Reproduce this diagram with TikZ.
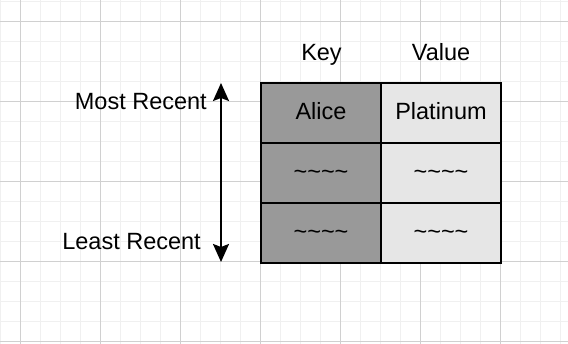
\documentclass[tikz,border=0pt]{standalone}
\usepackage{fontspec}
\setmainfont{Liberation Sans}
\usetikzlibrary{arrows.meta}
\definecolor{minorgrid}{HTML}{F0F0F0}
\definecolor{majorgrid}{HTML}{D0D0D0}
\definecolor{keyfill}{HTML}{999999}
\definecolor{valfill}{HTML}{E6E6E6}
\tikzset{
  minorline/.style={draw=minorgrid, line width=1pt},
  majorline/.style={draw=majorgrid, line width=1pt},
  cell/.style={draw=black, line width=2pt, minimum width=120pt, minimum height=60pt,
    inner sep=0pt, text height=16pt, text depth=2pt, font=\fontsize{23.5}{28}\selectfont},
  keycell/.style={cell, fill=keyfill},
  valcell/.style={cell, fill=valfill},
  label/.style={inner sep=0pt, font=\fontsize{23.5}{28}\selectfont},
  lru/.style={line width=2pt, {Stealth[length=18pt,width=16pt,inset=3pt]}-{Stealth[length=18pt,width=16pt,inset=3pt]}}
}
\newcommand{\tld}{\textasciitilde\textasciitilde\textasciitilde\textasciitilde}
\begin{document}
\begin{tikzpicture}[x=1pt,y=-1pt]
\useasboundingbox (0,0) rectangle (568,344);
\fill[white] (0,0) rectangle (568,344);
% grid
\foreach \gx in {0,20,...,560} \draw[minorline] (\gx,0) -- (\gx,344);
\foreach \gy in {2,22,...,342} \draw[minorline] (0,\gy) -- (568,\gy);
\foreach \gx in {20,100,...,500} \draw[majorline] (\gx,0) -- (\gx,344);
\foreach \gy in {22,102,...,342} \draw[majorline] (0,\gy) -- (568,\gy);
% header labels
\node[label, anchor=base] (keyhdr) at (321.5,61) {Key};
\node[label, anchor=base] (valhdr) at (441,61) {Value};
% table cells
\node[keycell] (k1) at (321,113) {Alice};
\node[valcell] (v1) at (441,113) {Platinum};
\node[keycell] (k2) at (321,173) {\tld};
\node[valcell] (v2) at (441,173) {\tld};
\node[keycell] (k3) at (321,233) {\tld};
\node[valcell] (v3) at (441,233) {\tld};
% recency arrow
\coordinate (top) at (221,83);
\coordinate (bot) at (221,262);
\draw[lru] (bot) -- (top);
\node[label, anchor=base east] (most) at (207,109.3) {Most Recent};
\node[label, anchor=base east] (least) at (201,249.3) {Least Recent};
\end{tikzpicture}
\end{document}
